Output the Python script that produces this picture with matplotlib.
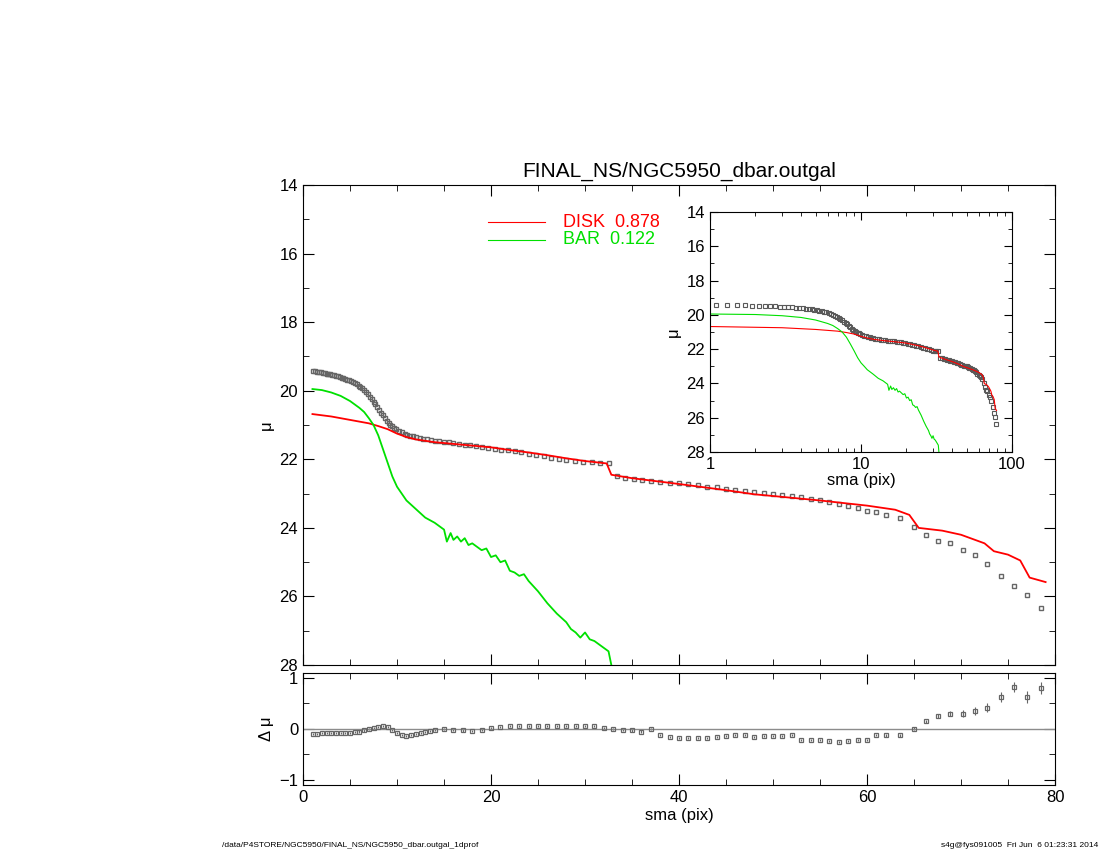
import numpy as np
import matplotlib.pyplot as plt
from matplotlib.ticker import MultipleLocator

plt.rcParams['font.family'] = ['Liberation Sans', 'DejaVu Sans']

# observed profile (dense inner part, then sparser)
sma = [1.1, 1.3, 1.5, 1.7, 1.9, 2.1, 2.3, 2.5, 2.7, 2.9, 3.1, 3.3, 3.5, 3.7, 3.9, 4.1, 4.3, 4.5,
       4.7, 4.9, 5.1, 5.3, 5.5, 5.7, 5.9, 6.1, 6.3, 6.5, 6.7, 6.9, 7.1, 7.3, 7.5, 7.7, 7.9, 8.1,
       8.3, 8.5, 8.7, 8.9, 9.1, 9.3, 9.5, 9.7, 9.9, 10.2, 10.5, 10.8, 11.1, 11.4, 11.7, 12.0,
       12.4, 12.8, 13.2, 13.6, 14.0, 14.5, 15.0, 15.5, 16.0, 16.6, 17.2, 17.8, 18.4, 19.0,
       19.7, 20.4, 21.1, 21.8, 22.5, 23.2, 24.0, 24.8, 25.6, 26.4, 27.2, 28.0, 28.9, 29.8,
       30.7, 31.6, 32.5,
       33.4, 34.3, 35.2, 36.1, 37.0, 38.0, 39.0, 40.0, 41.0, 42.0, 43.0, 44.0, 45.0, 46.0,
       47.0, 48.0, 49.0, 50.0, 51.0, 52.0, 53.0, 54.0, 55.0, 56.0, 57.0, 58.0, 59.0, 60.0,
       61.0, 62.0, 63.5, 65.0, 66.3, 67.5, 68.8, 70.2, 71.5, 72.8, 74.3, 75.6, 77.0, 78.5]
mu = [19.42, 19.43, 19.44, 19.45, 19.46, 19.47, 19.48, 19.5, 19.51, 19.52, 19.54, 19.55, 19.57,
      19.58, 19.6, 19.62, 19.64, 19.66, 19.68, 19.7, 19.72, 19.75, 19.78, 19.81, 19.85, 19.89,
      19.93, 19.98, 20.04, 20.1, 20.17, 20.24, 20.32, 20.4, 20.48, 20.56, 20.64, 20.72, 20.8,
      20.87, 20.93, 20.99, 21.04, 21.08, 21.12, 21.17, 21.21, 21.25, 21.28, 21.31, 21.33, 21.35,
      21.38, 21.4, 21.42, 21.44, 21.46, 21.48, 21.5, 21.5, 21.52, 21.55, 21.57, 21.59, 21.61,
      21.63, 21.66, 21.69, 21.72, 21.74, 21.77, 21.8, 21.84, 21.87, 21.91, 21.95, 21.99,
      22.02, 22.05, 22.08, 22.09, 22.1, 22.1,
      22.5, 22.54, 22.56, 22.6, 22.62, 22.65, 22.68, 22.7, 22.73, 22.76, 22.8, 22.82, 22.86, 22.9,
      22.93, 22.96, 22.98, 23.0, 23.04, 23.07, 23.1, 23.15, 23.2, 23.24, 23.3, 23.35, 23.42, 23.5,
      23.55, 23.62, 23.72, 23.98, 24.2, 24.38, 24.45, 24.65, 24.8, 25.05, 25.4, 25.7, 25.95, 26.35]

# disk component
sma_disk = [1, 3, 5, 7, 8, 9, 10, 11, 12, 14, 16, 18, 20, 22, 24, 26, 28, 30, 32.3, 32.8, 35, 40,
            45, 47, 48, 50, 55, 60, 63, 64.5, 65.5, 68, 70, 71.5, 72.5, 73.5, 75, 76.3, 77.3, 79]
mu_disk = [20.68, 20.75, 20.85, 20.95, 21.03, 21.12, 21.25, 21.35, 21.42, 21.5, 21.55, 21.6,
           21.65, 21.73, 21.8, 21.88, 21.97, 22.05, 22.12, 22.45, 22.55, 22.72, 22.9, 22.98, 23.02,
           23.07, 23.2, 23.35, 23.47, 23.62, 24.0, 24.08, 24.2, 24.35, 24.45, 24.68, 24.78, 24.95,
           25.45, 25.58]

# bar component
sma_bar = [1, 2, 3, 4, 5, 6, 6.5, 7, 7.5, 8, 8.5, 9, 9.5, 10, 10.5, 11, 12, 13, 14, 15, 15.3,
           15.7, 16, 16.4, 16.8, 17.2, 17.6, 18, 18.5, 19, 19.5, 20, 20.5, 21, 21.5, 22, 22.5,
           23, 23.5, 24, 25, 26, 27, 28, 28.5, 29, 29.5, 30, 30.5, 31, 31.5, 32, 32.5, 32.8]
mu_bar = [19.95, 19.98, 20.05, 20.15, 20.3, 20.5, 20.62, 20.8, 21.0, 21.3, 21.7, 22.1, 22.5,
          22.8, 23.0, 23.2, 23.45, 23.7, 23.85, 24.05, 24.4, 24.15, 24.35, 24.25, 24.4, 24.3,
          24.5, 24.45, 24.55, 24.65, 24.6, 24.85, 24.8, 25.0, 24.95, 25.25, 25.3, 25.4, 25.35,
          25.55, 25.85, 26.2, 26.5, 26.75, 26.95, 27.05, 27.2, 27.05, 27.25, 27.3, 27.4, 27.5,
          27.6, 28.0]

# residuals
sma_res = [1.1, 1.5, 2, 2.5, 3, 3.5, 4, 4.5, 5, 5.5, 6, 6.5, 7, 7.5, 8, 8.5, 9, 9.5, 10, 10.5, 11,
           11.5, 12, 12.5, 13, 13.5, 14, 15, 16, 17, 18, 19, 20, 21, 22, 23, 24, 25, 26, 27, 28,
           29, 30, 31, 32, 33, 34, 35, 36, 37, 38, 39, 40, 41, 42, 43, 44,
           45, 46, 47, 48, 49, 50, 51, 52, 53, 54, 55, 56, 57, 58, 59, 60, 61, 62, 63.5, 65,
           66.3, 67.5, 68.8, 70.2, 71.5, 72.8, 74.3, 75.6, 77.0, 78.5]
res = [-0.1, -0.09, -0.08, -0.08, -0.07, -0.07, -0.07, -0.07, -0.07, -0.06, -0.05, -0.03, 0.0,
       0.02, 0.04, 0.05, 0.03, -0.02, -0.08, -0.12, -0.13, -0.12, -0.1, -0.08, -0.06, -0.04,
       -0.02, 0.0, -0.02, -0.03, -0.04, -0.02, 0.02, 0.04, 0.05, 0.05, 0.05, 0.05, 0.06, 0.06,
       0.06, 0.06, 0.05, 0.05, 0.02, -0.01, -0.02, -0.03, -0.05, 0.0, -0.12, -0.15, -0.17,
       -0.17, -0.17, -0.17, -0.15, -0.13, -0.12, -0.12, -0.15, -0.13, -0.13, -0.13, -0.12,
       -0.22, -0.22, -0.22, -0.24, -0.25, -0.24, -0.22, -0.22, -0.12, -0.12, -0.12, 0.0,
       0.15, 0.25, 0.3, 0.3, 0.36, 0.42, 0.62, 0.82, 0.62, 0.8]
res_err = [0.02] * 74 + [0.03, 0.03, 0.03, 0.03, 0.04, 0.05, 0.07, 0.08, 0.09, 0.1, 0.1, 0.12, 0.12]

fig = plt.figure(figsize=(11, 8.5), dpi=100)

def style(ax):
    ax.tick_params(which='both', direction='in', top=True, right=True, labelsize=12)
    ax.tick_params(which='major', length=8)
    ax.tick_params(which='minor', length=4)

ax = fig.add_axes([0.2755, 0.2176, 0.6836, 0.5647])
ax.plot(sma, mu, 's', mfc='none', mec='0.4', ms=3.5, mew=1)
ax.plot(sma_disk, mu_disk, color='red', lw=1.3)
ax.plot(sma_bar, mu_bar, color='#00e000', lw=1.3)
ax.set_xlim(0, 80)
ax.set_ylim(28, 14)
ax.xaxis.set_major_locator(MultipleLocator(20))
ax.xaxis.set_minor_locator(MultipleLocator(5))
ax.yaxis.set_major_locator(MultipleLocator(2))
ax.yaxis.set_minor_locator(MultipleLocator(1))
ax.set_xticklabels([])
ax.set_ylabel('μ', fontsize=12)
style(ax)
ax.set_title('FINAL_NS/NGC5950_dbar.outgal', fontsize=15, pad=6)
ax.plot([19.7, 25.7], [15.08, 15.08], color='red', lw=0.8)
ax.plot([19.7, 25.7], [15.6, 15.6], color='#00e000', lw=0.8)
ax.text(27.7, 15.08, 'DISK  0.878', color='red', fontsize=13, va='center')
ax.text(27.7, 15.6, 'BAR  0.122', color='#00e000', fontsize=13, va='center')

axr = fig.add_axes([0.2755, 0.0765, 0.6836, 0.1318])
axr.errorbar(sma_res, res, yerr=res_err, fmt='s', mfc='none', mec='0.4', ms=3,
             ecolor='0.4', elinewidth=0.8, mew=0.9)
axr.axhline(0, color='0.55', lw=1)
axr.set_xlim(0, 80)
axr.set_ylim(-1.1, 1.1)
axr.xaxis.set_major_locator(MultipleLocator(20))
axr.xaxis.set_minor_locator(MultipleLocator(5))
axr.yaxis.set_major_locator(MultipleLocator(1))
axr.yaxis.set_minor_locator(MultipleLocator(0.5))
axr.set_xlabel('sma (pix)', fontsize=12, labelpad=2)
axr.set_ylabel('Δ μ', fontsize=12)
style(axr)

axi = fig.add_axes([0.6455, 0.4682, 0.2745, 0.2824])
axi.plot(sma, mu, 's', mfc='none', mec='0.35', ms=3, mew=0.8)
axi.plot(sma_disk, mu_disk, color='red', lw=0.8)
axi.plot(sma_bar, mu_bar, color='#00e000', lw=0.8)
axi.set_xscale('log')
axi.set_xlim(1, 100)
axi.set_ylim(28, 14)
axi.yaxis.set_major_locator(MultipleLocator(2))
axi.yaxis.set_minor_locator(MultipleLocator(1))
axi.set_xticks([1, 10, 100])
axi.set_xticklabels(['1', '10', '100'])
axi.set_xlabel('sma (pix)', fontsize=12, labelpad=1)
axi.set_ylabel('μ', fontsize=12)
style(axi)
axi.tick_params(which='major', length=6)
axi.tick_params(which='minor', length=3)

fig.text(0.202, 0.003, '/data/P4STORE/NGC5950/FINAL_NS/NGC5950_dbar.outgal_1dprof', fontsize=6)
fig.text(0.998, 0.003, 's4g@fys091005  Fri Jun  6 01:23:31 2014', fontsize=6, ha='right')

fig.savefig('out.png', dpi=100)
